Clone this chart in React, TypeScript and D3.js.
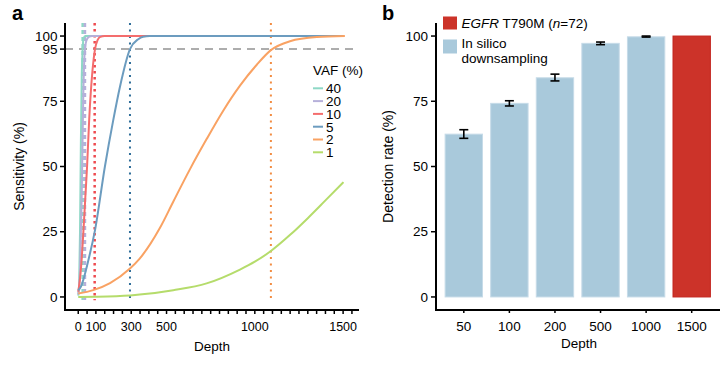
import * as d3 from 'd3';

// ---- panel a data ----
const vafLevels = ['40', '20', '10', '5', '2', '1'];
const vafColors = ['#8ED8C6', '#B6B0DA', '#F46D6D', '#6C9CBF', '#F9A263', '#B5DC6B'];
const vlineColors = ['#8ED8C6', '#B6B0DA', '#EE4A4F', '#2F6E9A', '#F28C42'];
// depth at which each VAF reaches 95% sensitivity (no line for 1%)
const depth95 = [25, 38, 93, 293, 1091];

const curve40: [number, number][] = [[0, 0.5], [5, 5], [10, 25], [15, 60], [20, 85], [25, 95], [30, 99], [40, 100], [1500, 100]];
const curve20: [number, number][] = [[0, 1], [10, 10], [20, 40], [28, 75], [35, 92], [45, 98], [60, 99.7], [80, 100], [1500, 100]];
const curve10: [number, number][] = [[0, 2], [10, 7], [20, 15], [30, 26], [40, 38], [50, 50], [62, 68], [81, 87], [95, 95], [110, 98.5], [125, 99.7], [150, 100], [1500, 100]];
const curve5: [number, number][] = [[0, 2.5], [14, 3.8], [57, 14], [95, 25.6], [151, 50], [198, 67.7], [236, 80.5], [293, 95], [340, 98.8], [367, 99.7], [406, 100], [1500, 100]];
const curve2: [number, number][] = [[0, 1.3], [85, 2.6], [180, 5.3], [293, 10.9], [348, 14.7], [463, 26.5], [538, 36.5], [633, 49], [727, 60.5], [822, 71.5], [916, 81], [1011, 89], [1091, 94.6], [1199, 98], [1351, 99.6], [1510, 100]];
const curve1: [number, number][] = [[0, 0], [100, 0.1], [293, 0.6], [348, 0.9], [538, 2.6], [727, 5.2], [916, 10.5], [1000, 13.5], [1091, 17.6], [1200, 23.8], [1300, 30.2], [1400, 37], [1502, 44]];
const curves = [curve40, curve20, curve10, curve5, curve2, curve1];

const depthTickLabels = [0, 100, 300, 500, 1000, 1500];
const sensTicks = [0, 25, 50, 75, 95, 100];

// ---- panel b data ----
const depthCats = ['50', '100', '200', '500', '1000', '1500'];
const detectRate = [62.4, 74.2, 84.0, 97.2, 99.7, 100];
const errLow = [60.8, 73.2, 82.8, 96.7, 99.6, null];
const errHigh = [64.1, 75.2, 85.4, 97.7, 100.0, null];
const rateTicks = [0, 25, 50, 75, 100];

const font = '"Liberation Sans", Arial, sans-serif';

export default function App() {
  const xA = d3.scaleLinear().domain([-75, 1590]).range([65, 359]);
  const y = d3.scaleLinear().domain([-5, 105]).range([310, 23]);
  const xB = d3.scaleBand<string>().domain(depthCats).range([436, 719.5]).paddingInner(0.18).paddingOuter(0.2);

  const line = d3
    .line<[number, number]>()
    .x((d) => xA(d[0]))
    .y((d) => y(d[1]))
    .curve(d3.curveMonotoneX);

  const minorTicks = d3.range(0, 1551, 50);
  const vlineDash = ['4,3', '4,3', '2.5,3.5', '2,4.5', '2,4.5'];
  const vlineWidth = [2.5, 2.5, 2.5, 2, 2];

  return (
    <svg width={720} height={365} style={{ position: 'absolute', left: 0, top: 0 }} fontFamily={font}>
      <rect width={720} height={365} fill="#fff" />

      {/* ===== panel a ===== */}
      <text x={12} y={19.5} fontSize={20} fontWeight="bold">a</text>

      {/* 95% reference */}
      <line x1={xA.range()[0]} x2={xA.range()[1]} y1={y(95)} y2={y(95)} stroke="#ADADAD" strokeWidth={2} strokeDasharray="8,6" />

      {depth95.map((d, i) => (
        <line key={'v' + i} x1={xA(d)} x2={xA(d)} y1={y(105)} y2={y(-1.3)} stroke={vlineColors[i]}
          strokeWidth={vlineWidth[i]} strokeDasharray={vlineDash[i]} />
      ))}

      {curves.map((c, i) => (
        <path key={'c' + i} d={line(c) || ''} fill="none" stroke={vafColors[i]} strokeWidth={2} />
      ))}

      {/* axes */}
      <line x1={65} x2={65} y1={y(105)} y2={y(-5)} stroke="#000" strokeWidth={2} />
      <line x1={64} x2={xA.range()[1]} y1={y(-5)} y2={y(-5)} stroke="#000" strokeWidth={2} />
      {sensTicks.map((t) => (
        <g key={'ya' + t}>
          <line x1={60} x2={65} y1={y(t)} y2={y(t)} stroke="#000" strokeWidth={1.5} />
          <text x={57.5} y={y(t)} dy="0.35em" textAnchor="end" fontSize={13.5}>{t}</text>
        </g>
      ))}
      {minorTicks.map((t) => (
        <line key={'xm' + t} x1={xA(t)} x2={xA(t)} y1={y(-5)} y2={y(-5) + 4} stroke="#000" strokeWidth={1.5} />
      ))}
      {depthTickLabels.map((t) => (
        <text key={'xl' + t} x={xA(t)} y={331} textAnchor="middle" fontSize={12.5}>{t}</text>
      ))}
      <text x={212} y={351} textAnchor="middle" fontSize={13.5}>Depth</text>
      <text transform={`translate(24,${y(50)}) rotate(-90)`} textAnchor="middle" fontSize={14}>Sensitivity (%)</text>

      {/* legend */}
      <text x={313} y={75} fontSize={13.5}>VAF (%)</text>
      {vafLevels.map((v, i) => (
        <g key={'lg' + v} transform={`translate(313,${88.3 + i * 12.8})`}>
          <line x1={0} x2={10} y1={0} y2={0} stroke={vafColors[i]} strokeWidth={2} />
          <text x={13} y={0} dy="0.36em" fontSize={13.5}>{v}</text>
        </g>
      ))}

      {/* ===== panel b ===== */}
      <text x={382} y={19.5} fontSize={20} fontWeight="bold">b</text>

      {depthCats.map((c, i) => {
        const red = i === depthCats.length - 1;
        return (
          <rect key={'b' + c} x={xB(c)} y={y(detectRate[i])} width={xB.bandwidth()} height={y(0) - y(detectRate[i])}
            fill={red ? '#CC3329' : '#A9C9DB'} stroke={red ? '#C2251E' : '#C6DBE8'} strokeWidth={1} />
        );
      })}
      {depthCats.map((c, i) => {
        const lo = errLow[i];
        const hi = errHigh[i];
        if (lo == null || hi == null) return null;
        const cx = (xB(c) as number) + xB.bandwidth() / 2;
        return (
          <g key={'e' + c} stroke="#000" strokeWidth={1.6}>
            <line x1={cx} x2={cx} y1={y(lo)} y2={y(hi)} />
            <line x1={cx - 4.5} x2={cx + 4.5} y1={y(lo)} y2={y(lo)} />
            <line x1={cx - 4.5} x2={cx + 4.5} y1={y(hi)} y2={y(hi)} />
          </g>
        );
      })}

      <line x1={436} x2={436} y1={y(105)} y2={y(-5)} stroke="#000" strokeWidth={2} />
      <line x1={435} x2={720} y1={y(-5)} y2={y(-5)} stroke="#000" strokeWidth={2} />
      {rateTicks.map((t) => (
        <g key={'yb' + t}>
          <line x1={431} x2={436} y1={y(t)} y2={y(t)} stroke="#000" strokeWidth={1.5} />
          <text x={428} y={y(t)} dy="0.35em" textAnchor="end" fontSize={13.5}>{t}</text>
        </g>
      ))}
      {depthCats.map((c) => {
        const cx = (xB(c) as number) + xB.bandwidth() / 2;
        return (
          <g key={'xb' + c}>
            <line x1={cx} x2={cx} y1={y(-5)} y2={y(-5) + 3} stroke="#000" strokeWidth={1.5} />
            <text x={cx} y={330.5} textAnchor="middle" fontSize={13.5}>{c}</text>
          </g>
        );
      })}
      <text x={579} y={347.5} textAnchor="middle" fontSize={13.5}>Depth</text>
      <text transform={`translate(393,${y(50)}) rotate(-90)`} textAnchor="middle" fontSize={14}>Detection rate (%)</text>

      {/* legend b */}
      <rect x={443} y={16.5} width={14} height={13} fill="#CC3329" />
      <text x={461.5} y={28.3} fontSize={13.5}>
        <tspan fontStyle="italic">EGFR</tspan> T790M (<tspan fontStyle="italic">n</tspan>=72)
      </text>
      <rect x={443} y={39.5} width={14} height={14} fill="#A9C9DB" />
      <text x={461.5} y={48.3} fontSize={13.5}>In silico</text>
      <text x={461.5} y={63} fontSize={13.5}>downsampling</text>
    </svg>
  );
}
